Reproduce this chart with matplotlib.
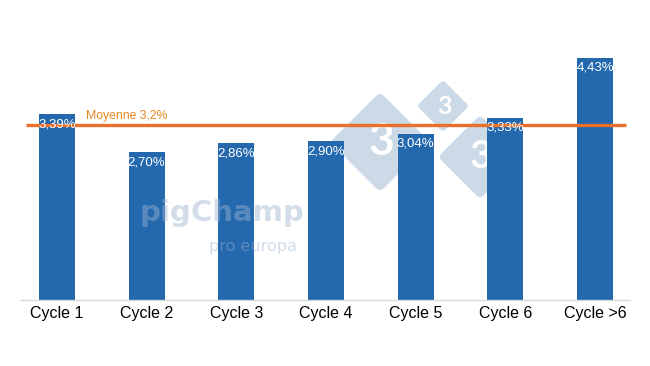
import matplotlib
matplotlib.use("Agg")
import matplotlib.pyplot as plt
from matplotlib.patches import FancyBboxPatch
from matplotlib.transforms import Affine2D

categories = ["Cycle 1", "Cycle 2", "Cycle 3", "Cycle 4", "Cycle 5", "Cycle 6", "Cycle >6"]
values = [3.39, 2.70, 2.86, 2.90, 3.04, 3.33, 4.43]
mean_value = 3.2
mean_label = "Moyenne 3,2%"

BAR_COLOR = "#2468AE"
LINE_COLOR = "#E8702A"
TEXT_ORANGE = "#E8861F"
WM_COLOR = "#CCD9E7"
WM_TEXT = "#9DB5D0"

plt.rcParams["font.family"] = ["Liberation Sans", "DejaVu Sans"]

W, H = 650, 366
fig = plt.figure(figsize=(W / 100, H / 100), dpi=100)
ax = fig.add_axes([21 / W, 1 - 300 / H, 609 / W, 272 / H])
ax.set_zorder(5)


def fx(px):
    return px / W


def fy(py):
    return 1 - py / H


# watermark logo behind the chart (pixel coords, origin top-left)
for cx, cy, r, fs in [(380, 142, 50, 32), (443, 106, 26, 18), (480, 157, 42, 28)]:
    side = r * 2 ** 0.5
    sq = FancyBboxPatch((-side / 2, -side / 2), side, side,
                        boxstyle=f"round,pad=0,rounding_size={side * 0.08}",
                        color=WM_COLOR, lw=0, zorder=0)
    sq.set_transform(Affine2D().rotate_deg(45).translate(cx, H - cy))
    fig.patches.append(sq)
    fig.text(fx(cx + 1), fy(cy), "3", color="white", fontsize=fs, fontweight="bold",
             family="Lato", ha="center", va="center", zorder=1)

# pigChamp text sits on top of the bars, semi transparent
fig.text(fx(139), fy(213), "pigChamp", color=WM_TEXT, alpha=0.45, fontsize=21,
         fontweight="bold", family="DejaVu Sans", ha="left", va="center", zorder=10)
fig.text(fx(209), fy(246), "pro europa", color=WM_TEXT, alpha=0.45, fontsize=11.5,
         family="DejaVu Sans", ha="left", va="center", zorder=10)

ax.set_facecolor("none")
x = range(len(categories))
bars = ax.bar(x, values, width=0.4, color=BAR_COLOR, zorder=2)
for b, v in zip(bars, values):
    ax.annotate(f"{v:.2f}%".replace(".", ","), (b.get_x() + b.get_width() / 2, v),
                xytext=(0, -3), textcoords="offset points", ha="center", va="top",
                color="white", fontsize=9.5, zorder=4)

ax.plot([-0.34, 6.35], [mean_value, mean_value], color=LINE_COLOR, lw=2.4,
        zorder=3, solid_capstyle="butt")
ax.text(0.32, mean_value + 0.05, mean_label, color=TEXT_ORANGE, fontsize=8.8,
        ha="left", va="bottom", zorder=4)

ax.set_xlim(-0.40, 6.39)
ax.set_ylim(0, 4.97)
ax.set_xticks(list(x))
ax.set_xticklabels(categories, fontsize=11.5)
ax.tick_params(axis="x", length=0, pad=4)
ax.set_yticks([])
for s in ["top", "right", "left"]:
    ax.spines[s].set_visible(False)
ax.spines["bottom"].set_color("#D9D9D9")
ax.spines["bottom"].set_linewidth(1)

fig.savefig("out.png", dpi=100)
